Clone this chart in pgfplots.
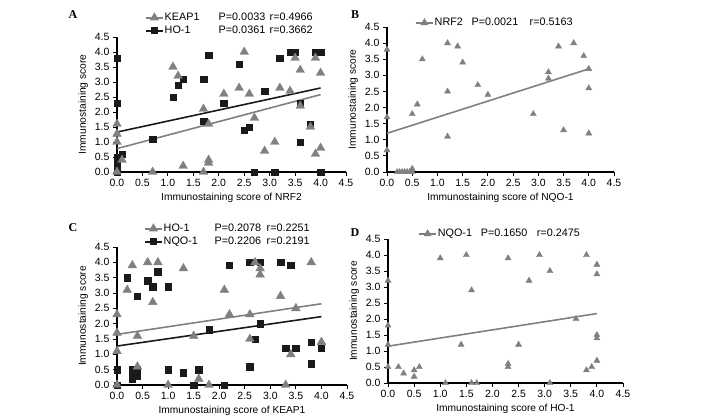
\documentclass[border=0pt]{standalone}
\usepackage{pgfplots}
\pgfplotsset{compat=1.18}
\usepackage{fontspec}
\setmainfont{Liberation Sans}
\newfontfamily\seriffont{Liberation Serif}
\definecolor{mgray}{RGB}{128,128,128}
\definecolor{mblack}{RGB}{26,26,26}

\pgfplotsset{
 panel/.style={
  scale only axis,
  axis lines=left,
  axis line style={-, line width=1.1pt, black},
  xmin=0, xmax=4.5, ymin=0, ymax=4.5,
  xtick={0,0.5,1,1.5,2,2.5,3,3.5,4,4.5},
  ytick={0,0.5,1,1.5,2,2.5,3,3.5,4,4.5},
  tick align=outside,
  major tick length=4pt,
  tick style={black, line width=0.9pt},
  ticklabel style={font=\fontsize{10.5}{12}\selectfont},
  /pgf/number format/fixed,
  /pgf/number format/fixed zerofill,
  /pgf/number format/precision=1,
  /pgf/number format/assume math mode=true,
  label style={font=\fontsize{10.2}{12}\selectfont},
  ylabel={Immunostaining score},
  xlabel style={yshift=1pt},
  clip=false,
  legend cell align=left,
  legend style={draw=none, fill=none, inner sep=0pt, row sep=2pt,
    font=\fontsize{10.8}{12}\selectfont, anchor=north west,
    nodes={inner sep=1pt}},
  legend image code/.code={\draw[mark repeat=2,mark phase=2,#1] plot coordinates {(0pt,0pt) (8.5pt,0pt) (17pt,0pt)};},
 },
 gtri/.style={only marks, mark=triangle*, mark size=5pt, color=mgray, forget plot},
 stri/.style={only marks, mark=triangle*, mark size=3.5pt, color=mgray, forget plot},
 bsq/.style={only marks, mark=square*, mark size=3.2pt, color=mblack, forget plot},
 gline/.style={no marks, line width=1.6pt, color=mgray, forget plot},
 bline/.style={no marks, line width=1.6pt, color=mblack, forget plot},
}

\begin{document}
\begin{tikzpicture}
\path[use as bounding box] (0pt,0pt) rectangle (708pt,419pt);

% ---------------- Panel A ----------------
\begin{axis}[panel, at={(117pt,247pt)}, anchor=south west, width=229pt, height=135pt,
  xlabel={Immunostaining score of NRF2},
  legend style={at={(0.122,1.185)}}]
\addplot[bsq] coordinates {
(0,3.8) (0,2.3) (0,0.5) (0,0.3) (0,0.2) (0,0) (0.1,0.6) (0.7,1.1) (1.1,2.5) (1.2,2.9)
(1.3,3.1) (1.7,3.1) (1.7,1.7) (1.8,3.9) (2.1,2.3) (2.4,3.6) (2.5,1.4) (2.6,1.5) (2.7,0)
(2.9,2.7) (3.1,0) (3.2,3.8) (3.4,4.0) (3.5,4.0) (3.6,2.3) (3.6,1.0) (3.8,1.6) (3.9,4.0)
(4.0,4.0) (4.0,0)};
\addplot[gtri] coordinates {
(0,1.6) (0,1.27) (0,1.0) (0.1,0.4) (0,0) (0.7,0) (1.1,3.5) (1.2,3.2) (1.3,0.2) (1.7,2.1)
(1.7,0) (1.8,1.6) (1.8,0.4) (1.8,0.3) (2.1,2.6) (2.4,2.8) (2.5,4.0) (2.6,2.6) (2.7,1.8)
(2.9,0.7) (3.1,1.0) (3.2,2.8) (3.4,2.7) (3.5,3.8) (3.6,3.4) (3.6,2.2) (3.8,1.5) (3.9,3.8)
(3.9,0.6) (4.0,3.3) (4.0,0.8)};
\addplot[bline] coordinates {(0,1.33) (4,2.8)};
\addplot[gline] coordinates {(0,0.78) (4,2.58)};
\addlegendimage{mgray, line width=1.6pt, mark=triangle*, mark size=3.8pt}
\addlegendentry{\makebox[54pt][l]{KEAP1}\makebox[51pt][l]{P=0.0033}r=0.4966}
\addlegendimage{mblack, line width=1.6pt, mark=square*, mark size=2.6pt}
\addlegendentry{\makebox[54pt][l]{HO-1}\makebox[51pt][l]{P=0.0361}r=0.3662}
\end{axis}

% ---------------- Panel B ----------------
\begin{axis}[panel, at={(387pt,247pt)}, anchor=south west, width=227pt, height=145pt,
  xlabel={Immunostaining score of NQO-1},
  legend style={at={(0.123,1.069)}}]
\addplot[stri] coordinates {
(0,3.8) (0,1.7) (0,0.68) (0.2,0) (0.25,0) (0.3,0) (0.35,0) (0.4,0) (0.45,0) (0.5,0) (0.5,0.1)
(0.5,1.8) (0.6,2.1) (0.7,3.5) (1.2,4.0) (1.4,3.9) (1.5,3.4) (1.2,2.5) (1.2,1.1) (1.8,2.7)
(2.0,2.4) (2.9,1.8) (3.2,3.1) (3.2,2.9) (3.4,3.9) (3.5,1.3) (3.7,4.0) (3.9,3.6) (4.0,3.2)
(4.0,2.6) (4.0,1.2)};
\addplot[gline] coordinates {(0,1.2) (4,3.2)};
\addlegendimage{mgray, line width=1.6pt, mark=triangle*, mark size=3pt}
\addlegendentry{\makebox[37pt][l]{NRF2}\makebox[58pt][l]{P=0.0021}r=0.5163}
\end{axis}

% ---------------- Panel C ----------------
\begin{axis}[panel, at={(117pt,34pt)}, anchor=south west, width=230pt, height=138pt,
  xlabel={Immunostaining score of KEAP1},
  legend style={at={(0.117,1.174)}}]
\addplot[bsq] coordinates {
(0,0.5) (0,0) (0.2,3.5) (0.3,0.5) (0.3,0.2) (0.3,0.4) (0.4,2.9) (0.4,0.5) (0.4,0.3) (0.6,3.4)
(0.7,3.2) (0.8,3.7) (1.0,3.2) (1.0,0.5) (1.3,0.4) (1.5,0) (1.6,0.5) (1.8,1.8) (2.1,0) (2.2,3.9)
(2.6,4.0) (2.6,0.6) (2.7,1.5) (2.8,4.0) (2.8,2.0) (3.2,4.0) (3.4,3.9) (3.3,1.2) (3.5,1.2)
(3.8,1.4) (3.8,0.7) (4.0,1.2)};
\addplot[gtri] coordinates {
(0,2.3) (0,1.7) (0,1.1) (0,0) (0.2,3.1) (0.3,3.9) (0.4,1.6) (0.4,0.6) (0.6,4.0) (0.7,2.7)
(0.8,4.0) (1.0,0) (1.3,3.8) (1.5,1.6) (1.6,0.2) (1.8,0) (2.1,3.1) (2.2,2.3) (2.6,2.3) (2.6,1.5)
(2.7,4.0) (2.8,3.8) (2.8,3.6) (3.2,2.9) (3.3,0) (3.4,1.0) (3.5,2.5) (3.8,4.0) (4.0,1.4)};
\addplot[gline] coordinates {(0,1.65) (4,2.65)};
\addplot[bline] coordinates {(0,1.27) (4,2.23)};
\addlegendimage{mgray, line width=1.6pt, mark=triangle*, mark size=3.8pt}
\addlegendentry{\makebox[51pt][l]{HO-1}\makebox[52pt][l]{P=0.2078}r=0.2251}
\addlegendimage{mblack, line width=1.6pt, mark=square*, mark size=2.6pt}
\addlegendentry{\makebox[51pt][l]{NQO-1}\makebox[52pt][l]{P=0.2206}r=0.2191}
\end{axis}

% ---------------- Panel D ----------------
\begin{axis}[panel, at={(388pt,36pt)}, anchor=south west, width=235pt, height=144pt,
  xlabel={Immunostaining score of HO-1},
  legend style={at={(0.128,1.076)}}]
\addplot[stri] coordinates {
(0,3.2) (0,1.8) (0,1.2) (0,0.5) (0.2,0.5) (0.3,0.3) (0.5,0.4) (0.5,0.2) (0.6,0.5) (1.0,3.9)
(1.1,0) (1.4,1.2) (1.5,4.0) (1.6,2.9) (1.6,0) (1.7,0) (2.3,3.9) (2.3,0.6) (2.3,0.5) (2.5,1.2)
(2.7,3.2) (2.9,4.0) (3.1,3.5) (3.1,0) (3.6,2.0) (3.8,4.0) (3.8,0.4) (3.9,0.5) (4.0,3.7)
(4.0,3.4) (4.0,1.5) (4.0,1.4) (4.0,0.7)};
\addplot[gline] coordinates {(0,1.15) (4,2.17)};
\addlegendimage{mgray, line width=1.6pt, mark=triangle*, mark size=3pt}
\addlegendentry{\makebox[43pt][l]{NQO-1}\makebox[56pt][l]{P=0.1650}r=0.2475}
\end{axis}

\node[font=\seriffont\bfseries\fontsize{12}{14}\selectfont] at (73pt,404pt) {A};
\node[font=\seriffont\bfseries\fontsize{12}{14}\selectfont] at (355pt,404pt) {B};
\node[font=\seriffont\bfseries\fontsize{12}{14}\selectfont] at (73pt,191pt) {C};
\node[font=\seriffont\bfseries\fontsize{12}{14}\selectfont] at (355pt,186pt) {D};
\end{tikzpicture}
\end{document}
